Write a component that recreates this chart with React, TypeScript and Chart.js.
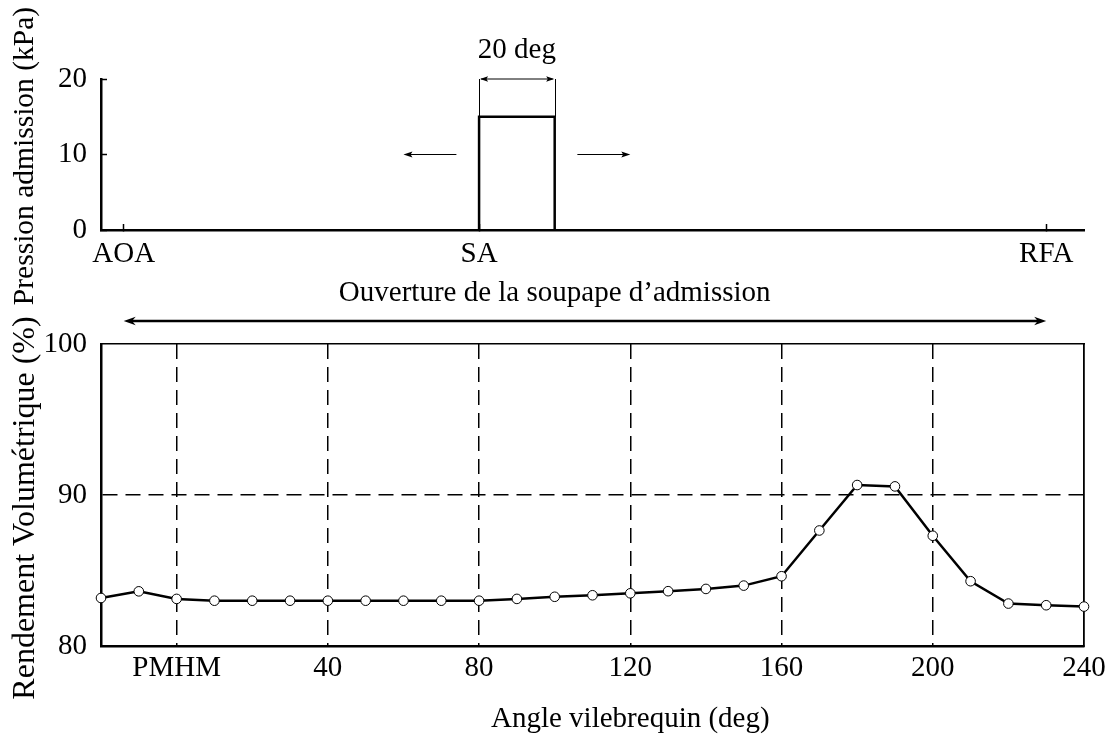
import React, { useEffect, useRef } from "react";
import { Chart, registerables } from "chart.js";

Chart.register(...registerables);

// ---------------- data ----------------
const crankAngles = [-20, -10, 0, 10, 20, 30, 40, 50, 60, 70, 80, 90, 100, 110, 120, 130, 140, 150, 160, 170, 180, 190, 200, 210, 220, 230, 240];
const volumetricEfficiency = [83.18, 83.62, 83.12, 83.0, 83.0, 83.0, 83.0, 83.0, 83.0, 83.0, 83.0, 83.12, 83.26, 83.36, 83.49, 83.63, 83.78, 84.0, 84.62, 87.65, 90.66, 90.57, 87.3, 84.29, 82.81, 82.7, 82.61];

const pulseAngles = [80, 80, 100, 100];
const pulsePressure = [0, 15, 15, 0];

const valveEventAngles = [-14, 80, 230];
const valveEventLabels = ["AOA", "SA", "RFA"];

const pressureTicks = [0, 10, 20];
const efficiencyTicks = [80, 90, 100];
const angleTickValues = [0, 40, 80, 120, 160, 200, 240];
const angleTickLabels = ["PMHM", "40", "80", "120", "160", "200", "240"];

const pulseWidthLabel = "20 deg";
const valveOpeningLabel = "Ouverture de la soupape d\u2019admission";
const topYTitle = "Pression admission (kPa)";
const bottomYTitle = "Rendement Volum\u00e9trique (%)";
const xTitle = "Angle vilebrequin (deg)";

// ---------------- layout ----------------
const W = 1114;
const H = 736;
const FONT = "'Liberation Serif', 'Times New Roman', Times, serif";
const FS = 29;

Chart.defaults.font.family = FONT;
Chart.defaults.font.size = FS;
Chart.defaults.color = "#000";

function arrowHead(ctx: CanvasRenderingContext2D, x: number, y: number, dir: number, len: number, half: number, notch = 0.75) {
  ctx.beginPath();
  ctx.moveTo(x, y);
  ctx.lineTo(x - dir * len, y - half);
  ctx.lineTo(x - dir * len * notch, y);
  ctx.lineTo(x - dir * len, y + half);
  ctx.closePath();
  ctx.fill();
}

function verticalText(ctx: CanvasRenderingContext2D, text: string, x: number, cy: number, size: number) {
  ctx.save();
  ctx.font = `${size}px ${FONT}`;
  ctx.translate(x, cy);
  ctx.rotate(-Math.PI / 2);
  ctx.textAlign = "center";
  ctx.textBaseline = "alphabetic";
  ctx.fillText(text, 0, 0);
  ctx.restore();
}

const topAnnotations = {
  id: "topAnnotations",
  afterDraw(chart: any) {
    const ctx: CanvasRenderingContext2D = chart.ctx;
    const xs = chart.scales.x;
    const ys = chart.scales.y;
    const px = (v: number) => xs.getPixelForValue(v);
    const py = (v: number) => ys.getPixelForValue(v);
    ctx.save();
    ctx.fillStyle = "#000";
    ctx.strokeStyle = "#000";
    ctx.font = `${FS}px ${FONT}`;

    // 20 deg dimension
    const a0 = px(pulseAngles[0]);
    const a1 = px(pulseAngles[2]);
    const yTop = py(20);
    const yPulse = py(pulsePressure[1]);
    ctx.lineWidth = 1;
    ctx.beginPath();
    ctx.moveTo(Math.round(a0) + 0.5, yPulse);
    ctx.lineTo(Math.round(a0) + 0.5, yTop);
    ctx.moveTo(Math.round(a1) + 0.5, yPulse);
    ctx.lineTo(Math.round(a1) + 0.5, yTop);
    ctx.moveTo(a0 + 2, yTop);
    ctx.lineTo(a1 - 2, yTop);
    ctx.stroke();
    arrowHead(ctx, a0 + 1, yTop, -1, 8, 2.8, 0.8);
    arrowHead(ctx, a1 - 0.5, yTop, 1, 8, 2.8, 0.8);
    ctx.textAlign = "center";
    ctx.textBaseline = "alphabetic";
    ctx.fillText(pulseWidthLabel, px(90), 58);

    // small shift arrows
    const yMid = py(10);
    ctx.lineWidth = 1.2;
    ctx.beginPath();
    ctx.moveTo(px(74), yMid);
    ctx.lineTo(px(60) + 4, yMid);
    ctx.moveTo(px(106), yMid);
    ctx.lineTo(px(120) - 4, yMid);
    ctx.stroke();
    arrowHead(ctx, px(60), yMid, -1, 9, 3, 0.8);
    arrowHead(ctx, px(120), yMid, 1, 9, 3, 0.8);

    // valve opening span
    ctx.fillText(valveOpeningLabel, px(100), 301);
    const yArrow = 321;
    const s0 = px(valveEventAngles[0]);
    const s1 = px(valveEventAngles[2]);
    ctx.lineWidth = 2.5;
    ctx.beginPath();
    ctx.moveTo(s0 + 6, yArrow);
    ctx.lineTo(s1 - 6, yArrow);
    ctx.stroke();
    arrowHead(ctx, s0, yArrow, -1, 12, 4.2, 0.7);
    arrowHead(ctx, s1, yArrow, 1, 12, 4.2, 0.7);

    verticalText(ctx, topYTitle, 33, 156, 29.5);
    ctx.restore();
  },
};

const bottomAnnotations = {
  id: "bottomAnnotations",
  afterDraw(chart: any) {
    const ctx: CanvasRenderingContext2D = chart.ctx;
    const xs = chart.scales.x;
    ctx.save();
    ctx.fillStyle = "#000";
    ctx.font = `${FS}px ${FONT}`;
    ctx.textAlign = "center";
    ctx.textBaseline = "alphabetic";
    ctx.fillText(xTitle, xs.getPixelForValue(120), 727);
    verticalText(ctx, bottomYTitle, 34, 508, 32);
    ctx.restore();
  },
};

export default function App() {
  const topRef = useRef<HTMLCanvasElement | null>(null);
  const bottomRef = useRef<HTMLCanvasElement | null>(null);

  useEffect(() => {
    document.body.style.margin = "0";
    document.body.style.overflow = "hidden";
    if (!topRef.current || !bottomRef.current) return;

    const topChart = new Chart(topRef.current, {
      type: "line",
      data: {
        datasets: [
          {
            data: pulseAngles.map((a, i) => ({ x: a, y: pulsePressure[i] })),
            borderColor: "#000",
            borderWidth: 2.5,
            pointRadius: 0,
            tension: 0,
            fill: false,
            clip: false,
          } as any,
        ],
      },
      options: {
        responsive: false,
        animation: false,
        events: [],
        layout: { padding: { left: 41, right: 30, top: 79, bottom: H - 230 - 50 } },
        plugins: { legend: { display: false }, tooltip: { enabled: false } },
        scales: {
          x: {
            type: "linear",
            position: "bottom",
            min: -20,
            max: 240,
            afterFit: (s: any) => { s.height = 50; },
            afterBuildTicks: (s: any) => { s.ticks = valveEventAngles.map((v) => ({ value: v })); },
            ticks: {
              autoSkip: false,
              maxRotation: 0,
              padding: 12.5,
              color: "#000",
              callback: (v: any) => {
                const i = valveEventAngles.indexOf(Number(v));
                return i >= 0 ? valveEventLabels[i] : "";
              },
            },
            grid: { drawOnChartArea: false, drawTicks: true, tickLength: -6, tickWidth: 1.5, tickColor: "#000" },
            border: { display: true, width: 2.5, color: "#000" },
          },
          y: {
            type: "linear",
            position: "left",
            min: 0,
            max: 20,
            afterFit: (s: any) => { s.width = 60; },
            afterBuildTicks: (s: any) => { s.ticks = pressureTicks.map((v) => ({ value: v })); },
            ticks: { padding: 20, color: "#000" },
            grid: { drawOnChartArea: false, drawTicks: true, tickLength: -6, tickWidth: 1.5, tickColor: "#000" },
            border: { display: true, width: 2.5, color: "#000" },
          },
        },
      } as any,
      plugins: [topAnnotations],
    });

    const transparent = "rgba(0,0,0,0)";
    const bottomChart = new Chart(bottomRef.current, {
      type: "line",
      data: {
        datasets: [
          {
            data: crankAngles.map((a, i) => ({ x: a, y: volumetricEfficiency[i] })),
            borderColor: "#000",
            borderWidth: 2.5,
            pointRadius: 4.8,
            pointBorderWidth: 1,
            pointBackgroundColor: "#fff",
            pointBorderColor: "#000",
            tension: 0,
            fill: false,
            clip: false,
            xAxisID: "x",
            yAxisID: "y",
          } as any,
        ],
      },
      options: {
        responsive: false,
        animation: false,
        events: [],
        layout: { padding: { left: 41, right: 30, top: 344, bottom: H - 646 - 50 } },
        plugins: { legend: { display: false }, tooltip: { enabled: false } },
        scales: {
          x: {
            type: "linear",
            position: "bottom",
            min: -20,
            max: 240,
            afterFit: (s: any) => { s.height = 50; },
            afterBuildTicks: (s: any) => { s.ticks = angleTickValues.map((v) => ({ value: v })); },
            ticks: {
              autoSkip: false,
              maxRotation: 0,
              padding: 5,
              color: "#000",
              callback: (v: any) => {
                const i = angleTickValues.indexOf(Number(v));
                return i >= 0 ? angleTickLabels[i] : "";
              },
            },
            grid: {
              drawTicks: false,
              lineWidth: 1.5,
              color: (c: any) => (c.tick && c.tick.value === 240 ? transparent : "#000"),
            },
            border: { display: true, width: 2.5, color: "#000", dash: [15, 8] },
          },
          y: {
            type: "linear",
            position: "left",
            min: 80,
            max: 100,
            afterFit: (s: any) => { s.width = 60; },
            afterBuildTicks: (s: any) => { s.ticks = efficiencyTicks.map((v) => ({ value: v })); },
            ticks: { padding: 14, color: "#000" },
            grid: {
              drawTicks: false,
              lineWidth: 1.5,
              color: (c: any) => (c.tick && (c.tick.value === 80 || c.tick.value === 100) ? transparent : "#000"),
            },
            border: { display: true, width: 2.5, color: "#000", dash: [15, 8] },
          },
          x2: {
            type: "linear",
            position: "top",
            min: -20,
            max: 240,
            afterFit: (s: any) => { s.height = 0; },
            ticks: { display: false },
            grid: { display: true, drawOnChartArea: false, drawTicks: false },
            border: { display: true, width: 1.5, color: "#000" },
          },
          y2: {
            type: "linear",
            position: "right",
            min: 80,
            max: 100,
            afterFit: (s: any) => { s.width = 0; },
            ticks: { display: false },
            grid: { display: true, drawOnChartArea: false, drawTicks: false },
            border: { display: true, width: 1.8, color: "#000" },
          },
        },
      } as any,
      plugins: [bottomAnnotations],
    });

    return () => {
      topChart.destroy();
      bottomChart.destroy();
    };
  }, []);

  const canvasStyle: React.CSSProperties = { position: "absolute", left: 0, top: 0, width: W, height: H };
  return (
    <div style={{ position: "absolute", left: 0, top: 0, width: W, height: H, background: "#fff", overflow: "hidden" }}>
      <canvas ref={topRef} width={W} height={H} style={canvasStyle} />
      <canvas ref={bottomRef} width={W} height={H} style={canvasStyle} />
    </div>
  );
}
